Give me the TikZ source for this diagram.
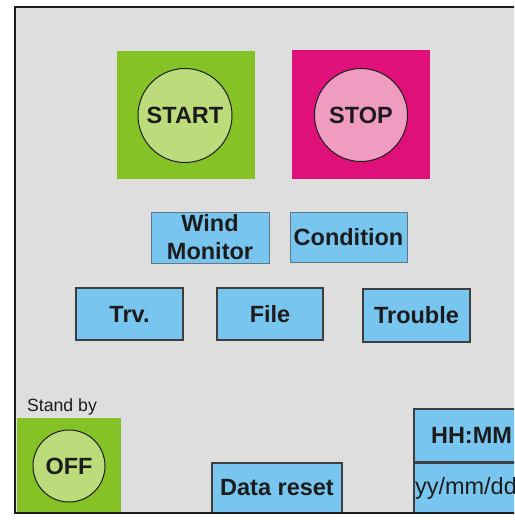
\documentclass[tikz,border=0pt]{standalone}
\usepackage{fontspec}
\setmainfont{Liberation Sans}
\usetikzlibrary{positioning}
\definecolor{panelgray}{RGB}{222,222,222}
\definecolor{padgreen}{RGB}{132,194,37}
\definecolor{lampgreen}{RGB}{188,220,124}
\definecolor{padmagenta}{RGB}{224,16,122}
\definecolor{lamppink}{RGB}{240,155,192}
\definecolor{keyblue}{RGB}{120,198,240}
\definecolor{keyedge}{RGB}{96,120,136}
\definecolor{ink}{RGB}{28,28,28}

\begin{document}
\begin{tikzpicture}[x=1pt,y=-1pt,
    every node/.style={font=\fontsize{23.5}{28}\selectfont\bfseries,text=ink,inner sep=0pt},
    pad/.style={rectangle,fill=#1},
    lamp/.style={circle,draw=ink,line width=1pt,fill=#1},
    key/.style={rectangle,draw=ink!85,line width=1.3pt,fill=keyblue,align=center},
    softkey/.style={key,draw=keyedge,line width=0.8pt}
]
\useasboundingbox (0,0) rectangle (514,522);
\clip (0,0) rectangle (514,522);
\fill[white] (0,0) rectangle (514,522);
\fill[panelgray] (15,7) rectangle (600,513);

\node[pad=padgreen,minimum width=138pt,minimum height=128pt]   (startpad) at (186,115) {};
\node[lamp=lampgreen,minimum size=94pt]  (start) at (185,115.5) {START};
\node[pad=padmagenta,minimum width=138pt,minimum height=129pt] (stoppad) at (361,114.5) {};
\node[lamp=lamppink,minimum size=93pt]   (stop) at (361,115) {STOP};

\node[softkey,minimum width=118pt,minimum height=51pt] (wind) at (210,237.5) {Wind\\Monitor};
\node[softkey,minimum width=117pt,minimum height=50pt] (cond) at (348.5,237) {Condition};

\node[key,minimum width=107pt,minimum height=52pt] (trv) at (129.5,314) {Trv.};
\node[key,minimum width=106pt,minimum height=52pt] (file) at (270,314) {File};
\node[key,minimum width=107pt,minimum height=53pt] (trouble) at (416.5,315.5) {Trouble};

\node[pad=padgreen,minimum width=104pt,minimum height=95pt] (offpad) at (69,465.5) {};
\node[lamp=lampgreen,minimum size=72pt] (off) at (69,466) {OFF};
\node[above=2pt of offpad.north,xshift=-7pt,font=\fontsize{17.7}{20}\selectfont] (standby) {Stand by};

\node[key,minimum width=130pt,minimum height=50pt] (reset) at (277,488) {Data reset};
\node[key,minimum width=115pt,minimum height=53pt] (clock) at (471.5,435.5) {HH:MM};
\node[key,minimum height=50pt,text width=113pt,inner xsep=1pt,align=left,below=0pt of clock,
      font=\fontsize{23.5}{28}\selectfont\mdseries] (date) {yy/mm/dd};

\draw[ink,line width=2.5pt] (15,7) rectangle (600,513);
\end{tikzpicture}
\end{document}
